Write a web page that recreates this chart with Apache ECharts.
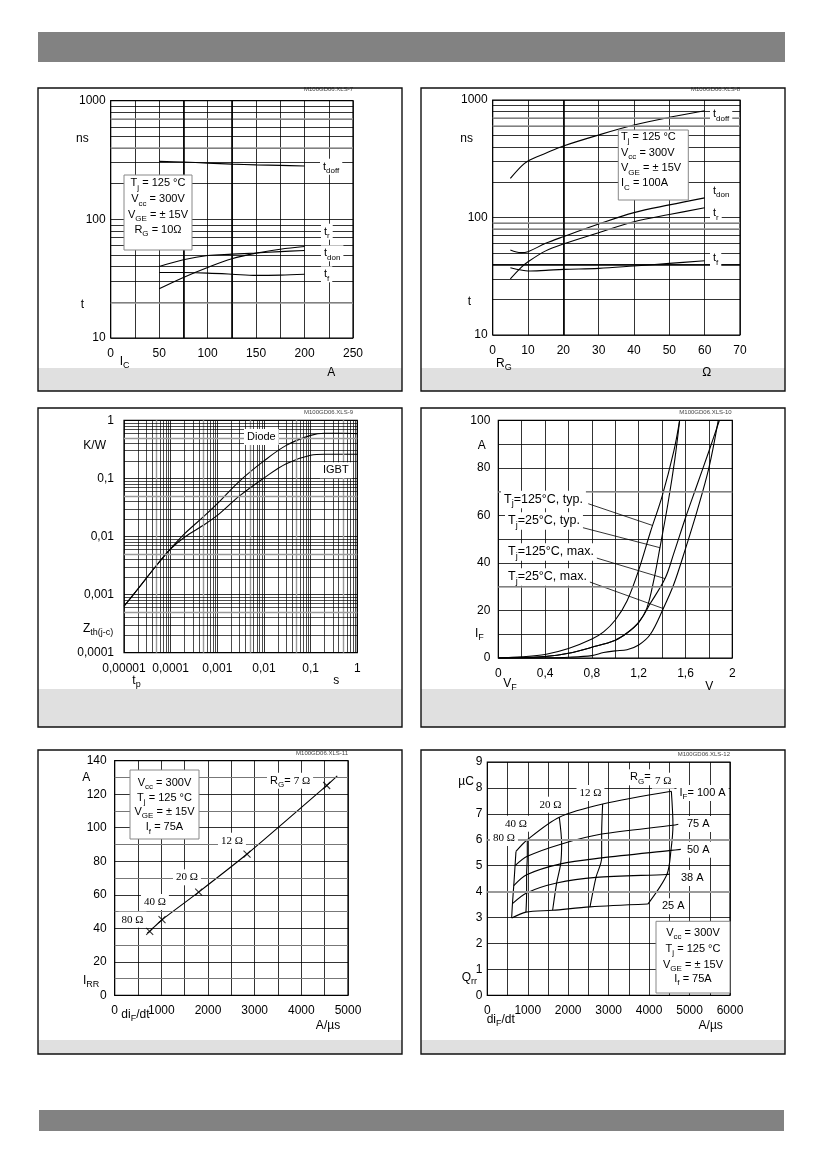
<!DOCTYPE html>
<html>
<head>
<meta charset="utf-8">
<script src="https://cdn.jsdelivr.net/npm/echarts@6/dist/echarts.min.js"></script>
<style>
  html, body { margin: 0; padding: 0; background: #fff; }
  #page { width: 826px; height: 1169px; }
</style>
</head>
<body>
<div id="page"></div>
<script>
// fig 7 - switching times vs collector current (Tj 125 C, RG 10 ohm)
const icA = [50, 75, 100, 125, 150, 175, 200]
const tdoffIc = [308, 304, 298, 292, 288, 285, 282]
const trIc = [26, 32.4, 39.3, 46.5, 51.9, 56, 59]
const tdonIc = [40, 45.6, 49.6, 50.9, 52, 53.5, 54.7]
const tfIc = [35.7, 35.6, 35.2, 34.5, 33.7, 33.9, 34.5]
const icTicks = ['0', '50', '100', '150', '200', '250']
const nsTicks = ['10', '100', '1000']

// fig 8 - switching times vs gate resistor (IC 100 A)
const rgOhm = [5, 8, 10, 15, 20, 30, 40, 50, 60]
const tdoffRg = [215, 271, 303, 352, 406, 504, 612, 712, 811]
const tdonRg = [52.9, 50.2, 51.2, 60.3, 68.7, 88, 110, 128, 147]
const trRg = [30, 37.4, 42, 52, 59.5, 74.3, 92, 106, 121]
const tfRg = [37.4, 35.7, 35, 35.5, 36.2, 36.9, 38.7, 40.7, 42.9]
const rgTicks = ['0', '10', '20', '30', '40', '50', '60', '70']

// fig 9 - transient thermal impedance
const tpSec = [1e-5, 2e-5, 5e-5, 1e-4, 2e-4, 5e-4, 1e-3, 3e-3, 1e-2, 3e-2, 0.1, 0.2, 0.5, 1]
const zthDiode = [0.00063, 0.00126, 0.0032, 0.0062, 0.0112, 0.0217, 0.0367, 0.09, 0.2, 0.37, 0.55, 0.6, 0.6, 0.59]
const zthIgbt = [0.00063, 0.00126, 0.0032, 0.0061, 0.0098, 0.0156, 0.0231, 0.05, 0.1016, 0.179, 0.25, 0.26, 0.26, 0.26]
const tpTicks = ['0,00001', '0,0001', '0,001', '0,01', '0,1', '1']
const zthTicks = ['0,0001', '0,001', '0,01', '0,1', '1']

// fig 10 - diode forward characteristic
const vf125typ = [0, 0.2, 0.4, 0.6, 0.8, 0.9, 1.0, 1.1, 1.2, 1.3, 1.4, 1.5, 1.55]
const if125typ = [0, 0.5, 1.5, 4, 8, 11, 16, 24, 37, 53, 68, 87, 100]
const vf25typ = [0, 0.2, 0.4, 0.6, 0.8, 1.0, 1.1, 1.2, 1.27, 1.33, 1.38, 1.45, 1.51, 1.55]
const if25typ = [0, 0.2, 0.6, 2, 4.5, 7.5, 10.5, 15, 21, 33, 46, 65, 84, 100]
const vf125max = [0, 0.2, 0.4, 0.6, 0.8, 1.0, 1.1, 1.2, 1.3, 1.425, 1.5, 1.6, 1.7, 1.8, 1.89]
const if125max = [0, 0.2, 0.6, 2, 4.5, 7.5, 10.5, 15, 23, 33.4, 44, 59, 73, 87, 100]
const vf25max = [0, 0.4, 0.6, 0.8, 0.9, 1.0, 1.1, 1.2, 1.3, 1.41, 1.5, 1.6, 1.7, 1.8, 1.88]
const if25max = [0, 0.1, 0.3, 1, 2.3, 3, 3.5, 5.5, 10, 20.8, 31, 46, 62, 80, 100]
// leader lines from the labels to the curves (V, A)
const leaderFrom = [[0.769, 64.9], [0.67, 55.5], [0.783, 42.9], [0.741, 32.7]]
const leaderTo = [[1.316, 55.8], [1.382, 46.4], [1.425, 33.4], [1.41, 20.8]]
const vfTicks = ['0', '0,4', '0,8', '1,2', '1,6', '2']
const ifTicks = ['0', '20', '40', '60', '80', '100']

// fig 11 - peak reverse recovery current
const difIrr = [700, 750, 1014, 1800, 2836, 4543, 4770]
const irrA = [37.2, 38.2, 45.1, 61.6, 84.3, 125.2, 131]
const markDif = [750, 1014, 1800, 2836, 4543]
const markIrr = [38.2, 45.1, 61.6, 84.3, 125.2]
const difTicks5 = ['0', '1000', '2000', '3000', '4000', '5000']
const irrTicks = ['0', '20', '40', '60', '80', '100', '120', '140']

// fig 12 - recovered charge; columns are RG = 80, 40, 20, 12, 7 ohm
const q25x = [602, 956, 1615, 2539, 3970]
const q25y = [2.98, 3.21, 3.28, 3.41, 3.52]
const q38x = [622, 972, 1714, 2687, 4440, 4510]
const q38y = [3.54, 3.95, 4.33, 4.55, 4.66, 4.68]
const q50x = [654, 972, 1813, 2827, 4540, 4785]
const q50y = [4.23, 4.65, 5.07, 5.30, 5.59, 5.63]
const q75x = [686, 989, 1838, 2827, 4590, 4722]
const q75y = [5.00, 5.36, 5.84, 6.22, 6.56, 6.60]
const q100x = [709, 989, 1780, 2852, 4550]
const q100y = [5.55, 6.00, 6.87, 7.38, 7.87]
const difTicks6 = ['0', '1000', '2000', '3000', '4000', '5000', '6000']
const qrrTicks = ['0', '1', '2', '3', '4', '5', '6', '7', '8', '9']

const SANS = '"Liberation Sans", Arial, sans-serif'
const SERIF = '"Liberation Serif", "Times New Roman", serif'

const stepFmt = (step, labels) => v => {
  const k = v / step, r = Math.round(k)
  return Math.abs(k - r) < 1e-6 && labels[r] != null ? labels[r] : ''
}
const logFmt = (minExp, labels) => v => {
  const e = Math.round(Math.log10(v)) - minExp
  return labels[e] != null ? labels[e] : ''
}
const pairs = (xs, ys) => xs.map((x, i) => [x, ys[i]])

function ax(gi, type, min, max, interval, fmt, margin) {
  const a = {
    type, gridIndex: gi, min, max,
    axisLine: { show: false }, axisTick: { show: false },
    axisLabel: { formatter: fmt, margin, color: '#000', fontSize: 12, fontFamily: SANS },
    splitLine: { show: true, lineStyle: { color: '#000', width: 0.8 } }
  }
  if (type === 'log') a.logBase = 10
  else a.interval = interval
  return a
}

// extra grid lines drawn with markLine so the log minors sit on 2..9
// (precision must be high, otherwise small log values get rounded to 0)
function gl(gi, key, values, color, width) {
  return {
    type: 'line', xAxisIndex: gi, yAxisIndex: gi, data: [], silent: true, z: 1,
    markLine: {
      silent: true, symbol: ['none', 'none'], label: { show: false }, animation: false,
      precision: 12,
      lineStyle: { color, width, type: 'solid' }, emphasis: { disabled: true },
      data: values.map(v => ({ [key]: v }))
    }
  }
}
function minors(e0, e1, ks) {
  const out = []
  for (let e = e0; e < e1; e++) for (const k of ks) out.push(+(k * Math.pow(10, e)).toPrecision(3))
  return out
}
function curve(gi, data, extra) {
  return Object.assign({
    type: 'line', xAxisIndex: gi, yAxisIndex: gi, data, symbol: 'none', showSymbol: false,
    smooth: 0.35, silent: true, z: 3, lineStyle: { color: '#000', width: 1.1 }
  }, extra || {})
}

// tiny markup: _{..} subscript, ~{..} serif
function rich(s) {
  const out = []
  let last = 0
  s.replace(/([_~])\{([^}]*)\}/g, (m, kind, body, pos) => {
    if (pos > last) out.push('{n|' + s.slice(last, pos) + '}')
    out.push((kind === '_' ? '{s|' : '{r|') + body + '}')
    last = pos + m.length
    return m
  })
  if (last < s.length) out.push('{n|' + s.slice(last) + '}')
  return out.join('')
}
function T(x, y, s, o) {
  o = o || {}
  const size = o.size || 11
  const fill = o.color || '#000'
  return {
    type: 'text', z: o.z || 20, silent: true,
    style: {
      x, y, text: rich(s), fill, fontSize: size, fontFamily: SANS,
      align: o.align || 'left', verticalAlign: 'middle',
      backgroundColor: o.bg || null, padding: o.bg ? [0, 3] : 0,
      rich: {
        n: { fontSize: size, fontFamily: SANS, lineHeight: size + 5, fill },
        s: { fontSize: Math.round(size * 0.72), fontFamily: SANS, verticalAlign: 'bottom', lineHeight: Math.round(size * 0.72) + 2, fill },
        r: { fontSize: size, fontFamily: SERIF, lineHeight: size + 5, fill }
      }
    }
  }
}
const R = (x, y, w, h, style, z) => ({ type: 'rect', z: z || 0, silent: true, shape: { x, y, width: w, height: h }, style })
const WB = { bg: '#fff' }
const AX = { size: 12 }
const AXC = { size: 12, align: 'center' }
const L4 = { bg: '#fff', size: 12.5 }
const CODE = { align: 'right', size: 6, color: '#444' }

// page frame: header / footer bars, six panels with grey caption strips
const panels = [[38, 88, 364, 303, 368], [421, 88, 364, 303, 368], [38, 408, 364, 319, 689],
                [421, 408, 364, 319, 689], [38, 750, 364, 304, 1040], [421, 750, 364, 304, 1040]]
const frame = [
  R(38, 32, 747, 30, { fill: '#828282' }),
  R(39, 1110, 745, 21, { fill: '#828282' })
]
panels.forEach(p => {
  frame.push(R(p[0], p[4], p[2], p[1] + p[3] - p[4], { fill: '#e0e0e0' }, 0))
  frame.push(R(p[0], p[1], p[2], p[3], { fill: 'none', stroke: '#111', lineWidth: 1.4 }, 30))
})

const box = (x, y, w, h) => R(x, y, w, h, { fill: '#fff', stroke: '#888', lineWidth: 1 }, 19)
const C = { align: 'center' }

const texts = [
  // fig 7
  T(82.3, 138.3, 'ns', AXC), T(82.3, 305, 't', AXC),
  T(119.7, 361.7, 'I_{C}', AX), T(331.3, 372.3, 'A', AXC),
  T(320, 166.7, 't_{doff}', WB), T(321, 231.7, 't_{r}', WB), T(321, 253.3, 't_{don}', WB), T(321, 274.3, 't_{f}', WB),
  box(124, 175, 68, 75),
  T(158, 183.3, 'T_{j} = 125 °C', C), T(158, 199.3, 'V_{cc} = 300V', C),
  T(158, 215, 'V_{GE} = ± 15V', C), T(158, 230, 'R_{G} = 10Ω', C),
  T(353, 89, 'M100GD06.XLS-7', CODE),
  // fig 8
  T(466.7, 138.3, 'ns', AXC), T(469.3, 301.7, 't', AXC),
  T(496, 363.3, 'R_{G}', AX), T(706.7, 372.3, 'Ω', AXC),
  T(710, 114.3, 't_{doff}', WB), T(710, 191, 't_{don}', WB), T(710, 213.3, 't_{r}', WB), T(710, 258.3, 't_{f}', WB),
  box(618.3, 130, 70, 70),
  T(621, 136.7, 'T_{j} = 125 °C'), T(621, 152.7, 'V_{cc} = 300V'),
  T(621, 168.3, 'V_{GE} = ± 15V'), T(621, 183.3, 'I_{C} = 100A'),
  T(740, 89, 'M100GD06.XLS-8', CODE),
  // fig 9
  T(94.7, 445.3, 'K/W', AXC), T(83, 628.7, 'Z_{th(j-c)}', AX),
  T(132.3, 680.3, 't_{p}', AX), T(336.3, 680.3, 's', AXC),
  T(244, 437, 'Diode', WB), T(320, 470.3, 'IGBT', WB),
  T(353, 412, 'M100GD06.XLS-9', CODE),
  // fig 10
  T(481.7, 445.3, 'A', AXC), T(475, 633.7, 'I_{F}', AX),
  T(503.3, 683.7, 'V_{F}', AX), T(709.3, 687, 'V', AXC),
  T(501, 499.5, 'T_{j}=125°C, typ.', L4), T(505, 521, 'T_{j}=25°C, typ.', L4),
  T(505, 552, 'T_{j}=125°C, max.', L4), T(505, 577, 'T_{j}=25°C, max.', L4),
  T(731.7, 412, 'M100GD06.XLS-10', CODE),
  // fig 11
  T(86.3, 777.3, 'A', AXC), T(83, 980.7, 'I_{RR}', AX),
  T(121.3, 1014.7, 'di_{F}/dt', AX), T(328, 1025.3, 'A/µs', AXC),
  T(267, 780.7, 'R_{G}= ~{7 Ω}', WB), T(218, 840.7, '~{12 Ω}', WB), T(173, 877.3, '~{20 Ω}', WB),
  T(141, 902, '~{40 Ω}', WB), T(118.5, 919.7, '~{80 Ω}', WB),
  box(130, 770, 69, 69),
  T(164.5, 783, 'V_{cc} = 300V', C), T(164.5, 798, 'T_{j} = 125 °C', C),
  T(164.5, 812, 'V_{GE} = ± 15V', C), T(164.5, 827.3, 'I_{f} = 75A', C),
  T(348, 753, 'M100GD06.XLS-11', CODE),
  // fig 12
  T(458.3, 781.3, 'µC', AX), T(461.7, 977.3, 'Q_{rr}', AX),
  T(486.7, 1019.7, 'di_{F}/dt', AX), T(710.7, 1025.3, 'A/µs', AXC),
  T(627, 777.3, 'R_{G}=', WB), T(652, 780.7, '~{7 Ω}', WB), T(676.5, 793, 'I_{F}= 100 A', WB),
  T(684, 824, '75 A', WB), T(684, 849.7, '50 A', WB), T(678, 878, '38 A', WB), T(659, 906.3, '25 A', WB),
  T(576.5, 793, '~{12 Ω}', WB), T(536.5, 804.7, '~{20 Ω}', WB), T(502, 823.7, '~{40 Ω}', WB), T(490, 838, '~{80 Ω}', WB),
  box(656, 921.3, 74, 71.7),
  T(693, 933, 'V_{cc} = 300V', C), T(693, 948.7, 'T_{j} = 125 °C', C),
  T(693, 964.7, 'V_{GE} = ± 15V', C), T(693, 978.7, 'I_{f} = 75A', C),
  T(730, 754, 'M100GD06.XLS-12', CODE)
]

const gridBox = { show: true, borderColor: '#000', borderWidth: 1.2, backgroundColor: 'transparent', containLabel: false, outerBoundsMode: 'none' }
const grids = [
  { left: 110.7, top: 100.7, width: 242.3, height: 237.3 },
  { left: 492.7, top: 100, width: 247.3, height: 235 },
  { left: 124, top: 420.3, width: 233.3, height: 232.4 },
  { left: 498.3, top: 420.3, width: 234, height: 237.7 },
  { left: 114.7, top: 760.7, width: 233.3, height: 234.6 },
  { left: 487.3, top: 762, width: 242.7, height: 233.3 }
].map(g => Object.assign({}, gridBox, g))

const xAxis = [
  ax(0, 'value', 0, 250, 25, stepFmt(50, icTicks), 10),
  ax(1, 'value', 0, 70, 10, stepFmt(10, rgTicks), 10),
  ax(2, 'log', 1e-5, 1, null, logFmt(-5, tpTicks), 10),
  ax(3, 'value', 0, 2, 0.2, stepFmt(0.4, vfTicks), 10),
  ax(4, 'value', 0, 5000, 500, stepFmt(1000, difTicks5), 9),
  ax(5, 'value', 0, 6000, 500, stepFmt(1000, difTicks6), 9)
]
const yAxis = [
  ax(0, 'log', 10, 1000, null, logFmt(1, nsTicks), 5),
  ax(1, 'log', 10, 1000, null, logFmt(1, nsTicks), 5),
  ax(2, 'log', 1e-4, 1, null, logFmt(-4, zthTicks), 10),
  ax(3, 'value', 0, 100, 10, stepFmt(20, ifTicks), 8),
  ax(4, 'value', 0, 140, 10, stepFmt(20, irrTicks), 8),
  ax(5, 'value', 0, 9, 1, stepFmt(1, qrrTicks), 5)
]

const GREY = '#9a9a9a'
const series = [
  // grid texture
  gl(0, 'yAxis', minors(1, 3, [2, 3, 4, 5, 6, 7, 8, 9]), '#000', 0.8),
  gl(0, 'yAxis', [20, 400, 700], GREY, 1.6),
  gl(0, 'xAxis', [75, 125], '#000', 1.6),
  gl(1, 'yAxis', minors(1, 3, [2, 3, 4, 5, 6, 7, 8, 9]), '#000', 0.8),
  gl(1, 'yAxis', [80, 90, 600, 700], GREY, 1.6),
  gl(1, 'yAxis', [40], '#000', 1.6),
  gl(1, 'xAxis', [20], '#000', 1.6),
  gl(2, 'xAxis', minors(-5, 0, [2, 3, 4, 6, 7, 8, 9]), '#000', 0.7),
  gl(2, 'xAxis', minors(-5, 0, [5]), GREY, 1.4),
  gl(2, 'yAxis', minors(-4, 0, [2, 3, 4, 6, 7, 8, 9]), '#000', 0.7),
  gl(2, 'yAxis', minors(-4, 0, [5]), GREY, 1.4),
  gl(3, 'yAxis', [30, 70], GREY, 1.5),
  gl(4, 'yAxis', [10, 30, 50, 70, 90, 110, 130], '#777', 1),
  gl(5, 'yAxis', [4, 6], GREY, 2),

  // fig 7
  curve(0, pairs(icA, tdoffIc)), curve(0, pairs(icA, trIc)),
  curve(0, pairs(icA, tdonIc)), curve(0, pairs(icA, tfIc)),
  // fig 8
  curve(1, pairs(rgOhm, tdoffRg)), curve(1, pairs(rgOhm, tdonRg)),
  curve(1, pairs(rgOhm, trRg)), curve(1, pairs(rgOhm, tfRg)),
  // fig 9
  curve(2, pairs(tpSec, zthDiode)), curve(2, pairs(tpSec, zthIgbt)),
  // fig 10
  curve(3, pairs(vf125typ, if125typ)), curve(3, pairs(vf25typ, if25typ)),
  curve(3, pairs(vf125max, if125max)), curve(3, pairs(vf25max, if25max)),
  ...leaderFrom.map((p, i) => curve(3, [p, leaderTo[i]], { smooth: false, lineStyle: { color: '#000', width: 0.8 } })),
  // fig 11
  curve(4, pairs(difIrr, irrA), { smooth: 0.2 }),
  {
    type: 'scatter', xAxisIndex: 4, yAxisIndex: 4, data: pairs(markDif, markIrr), silent: true, z: 4,
    symbol: 'path://M0,0L10,10M10,0L0,10', symbolSize: 7,
    itemStyle: { color: 'none', borderColor: '#000', borderWidth: 1.1 }
  },
  // fig 12 - IF curves
  ...[[q25x, q25y], [q38x, q38y], [q50x, q50y], [q75x, q75y], [q100x, q100y]]
    .map(([xs, ys]) => curve(5, pairs(xs, ys), { smooth: 0.3 })),
  // fig 12 - RG curves, one per column
  ...[0, 1, 2, 3, 4].map(k => curve(5,
    [[q25x[k], q25y[k]], [q38x[k], q38y[k]], [q50x[k], q50y[k]], [q75x[k], q75y[k]], [q100x[k], q100y[k]]],
    { smooth: 0.3 }))
]

const chart = echarts.init(document.getElementById('page'))
chart.setOption({
  animation: false,
  backgroundColor: '#fff',
  grid: grids,
  xAxis,
  yAxis,
  series,
  graphic: { elements: frame.concat(texts) }
})
</script>
</body>
</html>
